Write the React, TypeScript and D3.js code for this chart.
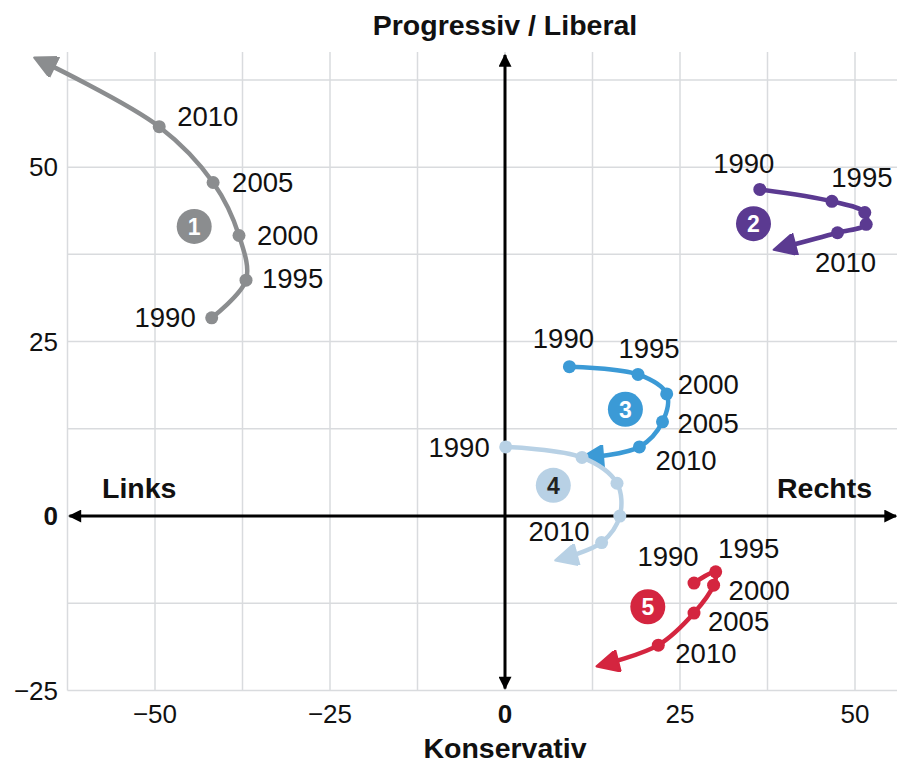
import React from 'react';
import * as d3 from 'd3';

// Jahre je Punkt
const years = ['1990', '1995', '2000', '2005', '2010'];

// Serie 1 (grau)
const s1X = [-41.9, -37.0, -38.0, -41.7, -49.4];
const s1Y = [28.4, 33.8, 40.2, 47.8, 55.8];
const s1Tip = [-66.4, 65.3];

// Serie 2 (lila)
const s2X = [36.4, 46.7, 51.4, 51.6, 47.5];
const s2Y = [46.8, 45.1, 43.5, 41.8, 40.6];
const s2Tip = [39.3, 38.4];

// Serie 3 (blau)
const s3X = [9.2, 19.0, 23.1, 22.5, 19.2];
const s3Y = [21.4, 20.3, 17.5, 13.5, 9.9];
const s3Tip = [11.8, 8.4];

// Serie 4 (hellblau)
const s4X = [0.1, 11.0, 16.0, 16.4, 13.8];
const s4Y = [9.9, 8.4, 4.7, 0.0, -3.8];
const s4Tip = [8.1, -6.1];

// Serie 5 (rot)
const s5X = [27.0, 30.1, 29.8, 27.0, 21.9];
const s5Y = [-9.6, -8.0, -9.9, -13.9, -18.5];
const s5Tip = [14.0, -21.3];

// Nummern-Badges
const badgeX = [-44.4, 35.5, 17.2, 6.9, 20.4];
const badgeY = [41.5, 41.9, 15.3, 4.4, -13.0];

const xTicks = [-50, -25, 0, 25, 50];
const yTicks = [-25, 0, 25, 50];

// label placement [dx, dy, anchor] per point, null = no label
type Lab = [number, number, string] | null;
const labels1: Lab[] = [[-16, 0, 'end'], [16, -2, 'start'], [18, 0, 'start'], [19, 0, 'start'], [18, -10, 'start']];
const labels2: Lab[] = [[-16, -26, 'middle'], [30, -24, 'middle'], null, null, [8, 30, 'middle']];
const labels3: Lab[] = [[-6, -28, 'middle'], [11, -26, 'middle'], [11, -10, 'start'], [15, 2, 'start'], [16, 13, 'start']];
const labels4: Lab[] = [[-16, 0, 'end'], null, null, null, [-12, -11, 'end']];
const labels5: Lab[] = [[-26, -27, 'middle'], [33, -23, 'middle'], [15, 5, 'start'], [14, 8, 'start'], [17, 8, 'start']];

const series = [
  { xs: s1X, ys: s1Y, tip: s1Tip, color: '#8b8d8f', labels: labels1, text: '#fff' },
  { xs: s2X, ys: s2Y, tip: s2Tip, color: '#5b3a91', labels: labels2, text: '#fff' },
  { xs: s3X, ys: s3Y, tip: s3Tip, color: '#3b9ad6', labels: labels3, text: '#fff' },
  { xs: s4X, ys: s4Y, tip: s4Tip, color: '#b8d1e5', labels: labels4, text: '#222' },
  { xs: s5X, ys: s5Y, tip: s5Tip, color: '#d4253f', labels: labels5, text: '#fff' },
];

const W = 897;
const H = 763;
const FONT = '"Liberation Sans", Arial, Helvetica, sans-serif';

export default function App() {
  const x = d3.scaleLinear().domain([-62.5, 56]).range([67.5, 897]);
  const y = d3.scaleLinear().domain([-25, 66.5]).range([690.5, 52]);

  const gridX = d3.range(-62.5, 56, 12.5);
  const gridY = d3.range(-25, 66, 12.5);

  const line = d3.line<[number, number]>()
    .x(d => x(d[0]))
    .y(d => y(d[1]))
    .curve(d3.curveCatmullRom.alpha(0.5));

  return (
    <svg width={W} height={H} style={{ position: 'absolute', left: 0, top: 0, background: '#fff' }} fontFamily={FONT}>
      <defs>
        {series.map((s, i) => (
          <marker key={i} id={`arr${i}`} viewBox="0 0 10 10" refX={7} refY={5}
            markerUnits="userSpaceOnUse" markerWidth={25} markerHeight={22} orient="auto">
            <path d="M0,0 L10,5 L0,10 z" fill={s.color} stroke={s.color} strokeWidth={1} strokeLinejoin="round" />
          </marker>
        ))}
        <marker id="axArr" viewBox="0 0 10 10" refX={9} refY={5}
          markerUnits="userSpaceOnUse" markerWidth={14} markerHeight={13} orient="auto-start-reverse">
          <path d="M0,0 L10,5 L0,10 z" fill="#000" />
        </marker>
      </defs>

      {/* grid */}
      <g stroke="#d9dbde" strokeWidth={1.5}>
        {gridX.map(v => (
          <line key={'gx' + v} x1={x(v)} x2={x(v)} y1={y(66.5)} y2={y(-25)} />
        ))}
        {gridY.map(v => (
          <line key={'gy' + v} x1={x(-62.5)} x2={x(56)} y1={y(v)} y2={y(v)} />
        ))}
      </g>

      {/* axes */}
      <line x1={x(-62.5) + 2} x2={x(56) - 1} y1={y(0)} y2={y(0)} stroke="#000" strokeWidth={3}
        markerStart="url(#axArr)" markerEnd="url(#axArr)" />
      <line x1={x(0)} x2={x(0)} y1={y(66.5) + 3} y2={y(-25) - 2} stroke="#000" strokeWidth={3}
        markerStart="url(#axArr)" markerEnd="url(#axArr)" />

      {/* tick labels */}
      {yTicks.map(v => (
        <text key={'yt' + v} x={58} y={y(v)} dy="0.35em" textAnchor="end" fontSize={26}
          fontWeight={v === 0 ? 'bold' : 'normal'} fill="#111">
          {v < 0 ? '\u2212' + Math.abs(v) : v}
        </text>
      ))}
      {xTicks.map(v => (
        <text key={'xt' + v} x={x(v)} y={723} textAnchor="middle" fontSize={26}
          fontWeight={v === 0 ? 'bold' : 'normal'} fill="#111">
          {v < 0 ? '\u2212' + Math.abs(v) : v}
        </text>
      ))}

      {/* axis titles */}
      <text x={x(0)} y={35} textAnchor="middle" fontSize={28.5} fontWeight="bold" fill="#111">Progressiv / Liberal</text>
      <text x={x(0)} y={758} textAnchor="middle" fontSize={28.5} fontWeight="bold" fill="#111">Konservativ</text>
      <text x={102} y={498} fontSize={28.5} fontWeight="bold" fill="#111">Links</text>
      <text x={872} y={498} textAnchor="end" fontSize={28.5} fontWeight="bold" fill="#111">Rechts</text>

      {/* series */}
      {series.map((s, i) => {
        const pts: [number, number][] = s.xs.map((v, j) => [v, s.ys[j]] as [number, number]);
        const path = line([...pts, [s.tip[0], s.tip[1]]]) || '';
        return (
          <g key={'s' + i}>
            <path d={path} fill="none" stroke={s.color} strokeWidth={4.5} markerEnd={`url(#arr${i})`} />
            {pts.map((p, j) => (
              <circle key={j} cx={x(p[0])} cy={y(p[1])} r={6.5} fill={s.color} />
            ))}
            {pts.map((p, j) => {
              const l = s.labels[j];
              if (!l) return null;
              return (
                <text key={'l' + j} x={x(p[0]) + l[0]} y={y(p[1]) + l[1]} dy="0.35em"
                  textAnchor={l[2]} fontSize={27.5} fill="#111">{years[j]}</text>
              );
            })}
            <circle cx={x(badgeX[i])} cy={y(badgeY[i])} r={17.5} fill={s.color} />
            <text x={x(badgeX[i])} y={y(badgeY[i])} dy="0.36em" textAnchor="middle" fontSize={23}
              fontWeight="bold" fill={s.text}>{i + 1}</text>
          </g>
        );
      })}
    </svg>
  );
}
